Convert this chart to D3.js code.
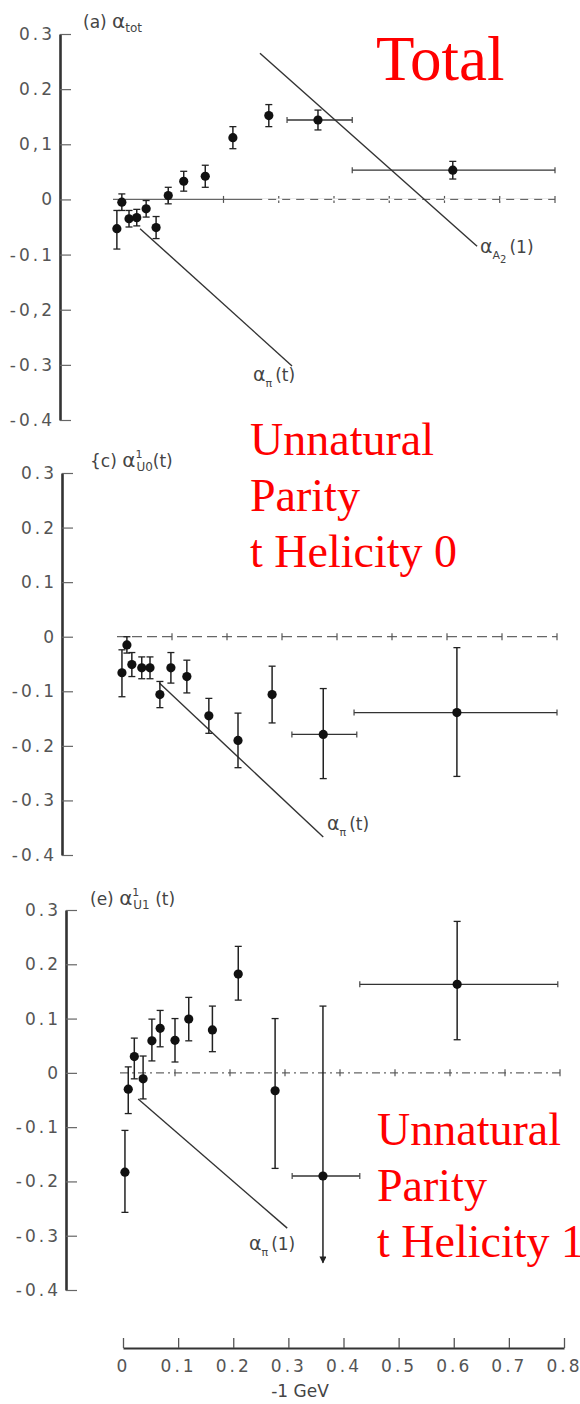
<!DOCTYPE html>
<html>
<head>
<meta charset="utf-8">
<script src="https://cdn.jsdelivr.net/npm/d3@7"></script>
<style>
  body { margin: 0; background: #fff; }
  svg { display: block; }
  .tk text { font-family: "DejaVu Sans", sans-serif; font-size: 17px; fill: #555; letter-spacing: 3px; }
  .lbl { font-family: "DejaVu Sans", sans-serif; fill: #444; }
  .red { font-family: "Liberation Serif", "Times New Roman", serif; fill: #f00; }
</style>
</head>
<body>
<script>
// ---- data ----
const yTicks = [0.3, 0.2, 0.1, 0, -0.1, -0.2, -0.3, -0.4];
const yLabelsA = ["0.3", "0.2", "0,1", "0", "-0.1", "-0,2", "-0.3", "-0.4"];
const yLabelsC = ["0.3", "0.2", "0.1", "0", "-0.1", "-0.2", "-0.3", "-0.4"];
const yLabelsE = ["0.3", "0.2", "0.1", "0", "-0.1", "-0.2", "-0.3", "-0.4"];
const xTicks = [0, 0.1, 0.2, 0.3, 0.4, 0.5, 0.6, 0.7, 0.8];
const xLabels = ["0", "0.1", "0.2", "0.3", "0.4", "0.5", "0.6", "0.7", "0.8"];

// (a) alpha_tot
const aT  = [0.007, 0.016, 0.029, 0.043, 0.060, 0.078, 0.100, 0.128, 0.167, 0.217, 0.282, 0.371, 0.615];
const aY  = [-0.053, -0.005, -0.035, -0.033, -0.017, -0.051, 0.007, 0.033, 0.042, 0.112, 0.152, 0.144, 0.053];
const aLo = [-0.090, -0.020, -0.050, -0.048, -0.032, -0.071, -0.008, 0.015, 0.022, 0.092, 0.132, 0.126, 0.037];
const aHi = [-0.020, 0.010, -0.020, -0.018, -0.002, -0.031, 0.022, 0.051, 0.062, 0.132, 0.172, 0.162, 0.069];
const aBinLo = [null, null, null, null, null, null, null, null, null, null, null, 0.315, 0.433];
const aBinHi = [null, null, null, null, null, null, null, null, null, null, null, 0.433, 0.800];
const aPiLine = [[0.049, -0.053], [0.324, -0.302]];
const aA2Line = [[0.266, 0.265], [0.659, -0.085]];

// (c) alpha^1_U0(t)
const cT  = [0.009, 0.018, 0.027, 0.045, 0.060, 0.078, 0.098, 0.127, 0.167, 0.220, 0.282, 0.375, 0.618];
const cY  = [-0.066, -0.015, -0.051, -0.057, -0.057, -0.106, -0.057, -0.073, -0.145, -0.190, -0.106, -0.179, -0.139];
const cLo = [-0.110, -0.030, -0.073, -0.077, -0.077, -0.130, -0.085, -0.103, -0.177, -0.240, -0.158, -0.260, -0.256];
const cHi = [-0.024, 0.000, -0.029, -0.037, -0.037, -0.082, -0.029, -0.043, -0.113, -0.140, -0.054, -0.095, -0.020];
const cBinLo = [null, null, null, null, null, null, null, null, null, null, null, 0.318, 0.431];
const cBinHi = [null, null, null, null, null, null, null, null, null, null, null, 0.436, 0.800];
const cPiLine = [[0.077, -0.085], [0.375, -0.367]];

// (e) alpha^1_U1(t)
const eT  = [0.009, 0.015, 0.026, 0.042, 0.058, 0.073, 0.100, 0.125, 0.168, 0.215, 0.282, 0.369, 0.613];
const eY  = [-0.183, -0.030, 0.030, -0.011, 0.059, 0.082, 0.060, 0.099, 0.079, 0.182, -0.033, -0.190, 0.163];
const eLo = [-0.257, -0.075, -0.011, -0.048, 0.022, 0.048, 0.020, 0.059, 0.039, 0.134, -0.176, -0.350, 0.061];
const eHi = [-0.106, 0.011, 0.064, 0.031, 0.099, 0.115, 0.100, 0.139, 0.123, 0.233, 0.100, 0.123, 0.279];
const eBinLo = [null, null, null, null, null, null, null, null, null, null, null, 0.313, 0.436];
const eBinHi = [null, null, null, null, null, null, null, null, null, null, null, 0.436, 0.796];
const eArrow = [false, false, false, false, false, false, false, false, false, false, false, true, false];
const ePiLine = [[0.033, -0.048], [0.304, -0.286]];

const W = 580, H = 1404;
const svg = d3.select("body").append("svg").attr("width", W).attr("height", H);

svg.append("defs").append("marker")
  .attr("id", "arr").attr("viewBox", "0 0 10 10").attr("refX", 9).attr("refY", 5)
  .attr("markerWidth", 9).attr("markerHeight", 7).attr("orient", "auto")
  .attr("markerUnits", "userSpaceOnUse")
  .append("path").attr("d", "M0,0 L10,5 L0,10 Z").attr("fill", "#222");

function panel(o) {
  const x = d3.scaleLinear().domain([0, 0.8]).range(o.xr);
  const y = d3.scaleLinear().domain([-0.4, 0.3]).range(o.yr);
  const g = svg.append("g");

  // y axis, ticks pointing inward
  const ax = g.append("g").attr("class", "tk")
    .attr("transform", `translate(${o.axX},0)`)
    .call(d3.axisLeft(y).tickValues(yTicks).tickSizeInner(-11).tickSizeOuter(0).tickPadding(5)
      .tickFormat((d, i) => o.labels[i]));
  ax.select(".domain").attr("stroke", "#333").attr("stroke-width", 2.6);
  ax.selectAll(".tick line").attr("stroke", "#666").attr("stroke-width", 1.2);

  // zero reference line with small ticks every 0.1
  g.append("line").attr("x1", x(0)).attr("x2", x(0.8)).attr("y1", y(0)).attr("y2", y(0))
    .attr("stroke", "#666").attr("stroke-width", 1.2).attr("stroke-dasharray", o.dash);
  g.selectAll(".zt").data(xTicks.slice(1)).join("line")
    .attr("x1", d => x(d)).attr("x2", d => x(d))
    .attr("y1", y(0) - 3.5).attr("y2", y(0) + 3.5)
    .attr("stroke", "#555").attr("stroke-width", 1.2);

  // theory lines
  o.lines.forEach(L => {
    g.append("line").attr("x1", x(L[0][0])).attr("y1", y(L[0][1]))
      .attr("x2", x(L[1][0])).attr("y2", y(L[1][1]))
      .attr("stroke", "#333").attr("stroke-width", 1.4);
  });

  const idx = d3.range(o.t.length);
  // vertical error bars
  g.selectAll(".ve").data(idx).join("line")
    .attr("x1", i => x(o.t[i])).attr("x2", i => x(o.t[i]))
    .attr("y1", i => y(o.hi[i])).attr("y2", i => y(o.lo[i]))
    .attr("stroke", "#222").attr("stroke-width", 1.5)
    .attr("marker-end", i => o.arrow && o.arrow[i] ? "url(#arr)" : null);
  const caps = [];
  idx.forEach(i => {
    caps.push([o.t[i], o.hi[i]]);
    if (!(o.arrow && o.arrow[i])) caps.push([o.t[i], o.lo[i]]);
  });
  g.selectAll(".cap").data(caps).join("line")
    .attr("x1", d => x(d[0]) - 3.5).attr("x2", d => x(d[0]) + 3.5)
    .attr("y1", d => y(d[1])).attr("y2", d => y(d[1]))
    .attr("stroke", "#222").attr("stroke-width", 1.3);

  // horizontal bin bars
  const bins = idx.filter(i => o.binLo[i] !== null);
  g.selectAll(".he").data(bins).join("line")
    .attr("x1", i => x(o.binLo[i])).attr("x2", i => x(o.binHi[i]))
    .attr("y1", i => y(o.v[i])).attr("y2", i => y(o.v[i]))
    .attr("stroke", "#333").attr("stroke-width", 1.3);
  const bcaps = [];
  bins.forEach(i => { bcaps.push([o.binLo[i], o.v[i]]); bcaps.push([o.binHi[i], o.v[i]]); });
  g.selectAll(".hcap").data(bcaps).join("line")
    .attr("x1", d => x(d[0])).attr("x2", d => x(d[0]))
    .attr("y1", d => y(d[1]) - 3).attr("y2", d => y(d[1]) + 3)
    .attr("stroke", "#444").attr("stroke-width", 1.2);

  // points
  g.selectAll(".pt").data(idx).join("circle")
    .attr("cx", i => x(o.t[i])).attr("cy", i => y(o.v[i])).attr("r", 4.6)
    .attr("fill", "#111");

  return { x, y, g };
}

const pa = panel({ xr: [113, 555], yr: [420, 34], axX: 60, labels: yLabelsA, dash: "none",
  t: aT, v: aY, lo: aLo, hi: aHi, binLo: aBinLo, binHi: aBinHi, lines: [aPiLine, aA2Line] });
const pc = panel({ xr: [117, 557], yr: [855, 473], axX: 62, labels: yLabelsC, dash: "10,5",
  t: cT, v: cY, lo: cLo, hi: cHi, binLo: cBinLo, binHi: cBinHi, lines: [cPiLine] });
const pe = panel({ xr: [120, 560], yr: [1290, 910], axX: 66, labels: yLabelsE, dash: "8,4,2,4",
  t: eT, v: eY, lo: eLo, hi: eHi, binLo: eBinLo, binHi: eBinHi, arrow: eArrow, lines: [ePiLine] });

// (a) zero line: solid at first, broken further out
pa.g.append("line").attr("x1", pa.x(0.27)).attr("x2", pa.x(0.8)).attr("y1", pa.y(0)).attr("y2", pa.y(0))
  .attr("stroke", "#fff").attr("stroke-width", 2).attr("stroke-dasharray", "6,8");

// bottom t axis
const xb = d3.scaleLinear().domain([0, 0.8]).range([123, 564]);
const xa = svg.append("g").attr("class", "tk").attr("transform", "translate(0,1348)")
  .call(d3.axisBottom(xb).tickValues(xTicks).tickSizeInner(-10).tickSizeOuter(0).tickPadding(12)
    .tickFormat((d, i) => xLabels[i]));
xa.select(".domain").attr("stroke", "#333").attr("stroke-width", 2);
xa.selectAll(".tick line").attr("stroke", "#555").attr("stroke-width", 1.3);
xa.selectAll(".tick text").attr("letter-spacing", 0.5);

svg.append("text").attr("class", "lbl").attr("x", 300).attr("y", 1397)
  .attr("text-anchor", "middle").attr("font-size", 17).text("-1  GeV");

// panel titles
function title(xp, yp, letter, sup, sub, tail) {
  const t = svg.append("text").attr("class", "lbl").attr("x", xp).attr("y", yp).attr("font-size", 17);
  t.append("tspan").text(letter + "  ");
  t.append("tspan").attr("font-size", 20).text("α");
  if (sup) {
    t.append("tspan").attr("font-size", 11).attr("dy", -9).text(sup);
    t.append("tspan").attr("font-size", 12).attr("dx", -6).attr("dy", 13).text(sub);
    t.append("tspan").attr("dy", -4).text(tail);
  } else {
    t.append("tspan").attr("font-size", 12).attr("dy", 4).text(sub);
  }
}
title(83, 28, "(a)", null, "tot", "");
title(90, 467, "{c)", "1", "U0", "(t)");
title(90, 905, "(e)", "1", "U1", " (t)");

// curve labels
function alab(xp, yp, sub, sub2, tail) {
  const t = svg.append("text").attr("class", "lbl").attr("x", xp).attr("y", yp).attr("font-size", 17);
  t.append("tspan").attr("font-size", 19).text("α");
  t.append("tspan").attr("font-size", 11).attr("dy", 6).text(sub);
  if (sub2) t.append("tspan").attr("font-size", 10).attr("dy", 4).text(sub2);
  t.append("tspan").attr("dy", sub2 ? -10 : -6).attr("dx", 3).text(tail);
}
alab(480, 253, "A", "2", "(1)");
alab(253, 381, "π", null, "(t)");
alab(327, 830, "π", null, "(t)");
alab(249, 1250, "π", null, "(1)");

// red annotations
svg.append("text").attr("class", "red").attr("x", 376).attr("y", 80).attr("font-size", 63).text("Total");
function redBlock(xp, y0, lines) {
  lines.forEach((s, i) => svg.append("text").attr("class", "red")
    .attr("x", xp).attr("y", y0 + i * 56).attr("font-size", 46).text(s));
}
redBlock(250, 455, ["Unnatural", "Parity", "t Helicity 0"]);
redBlock(377, 1145, ["Unnatural", "Parity", "t Helicity 1"]);
</script>
</body>
</html>
